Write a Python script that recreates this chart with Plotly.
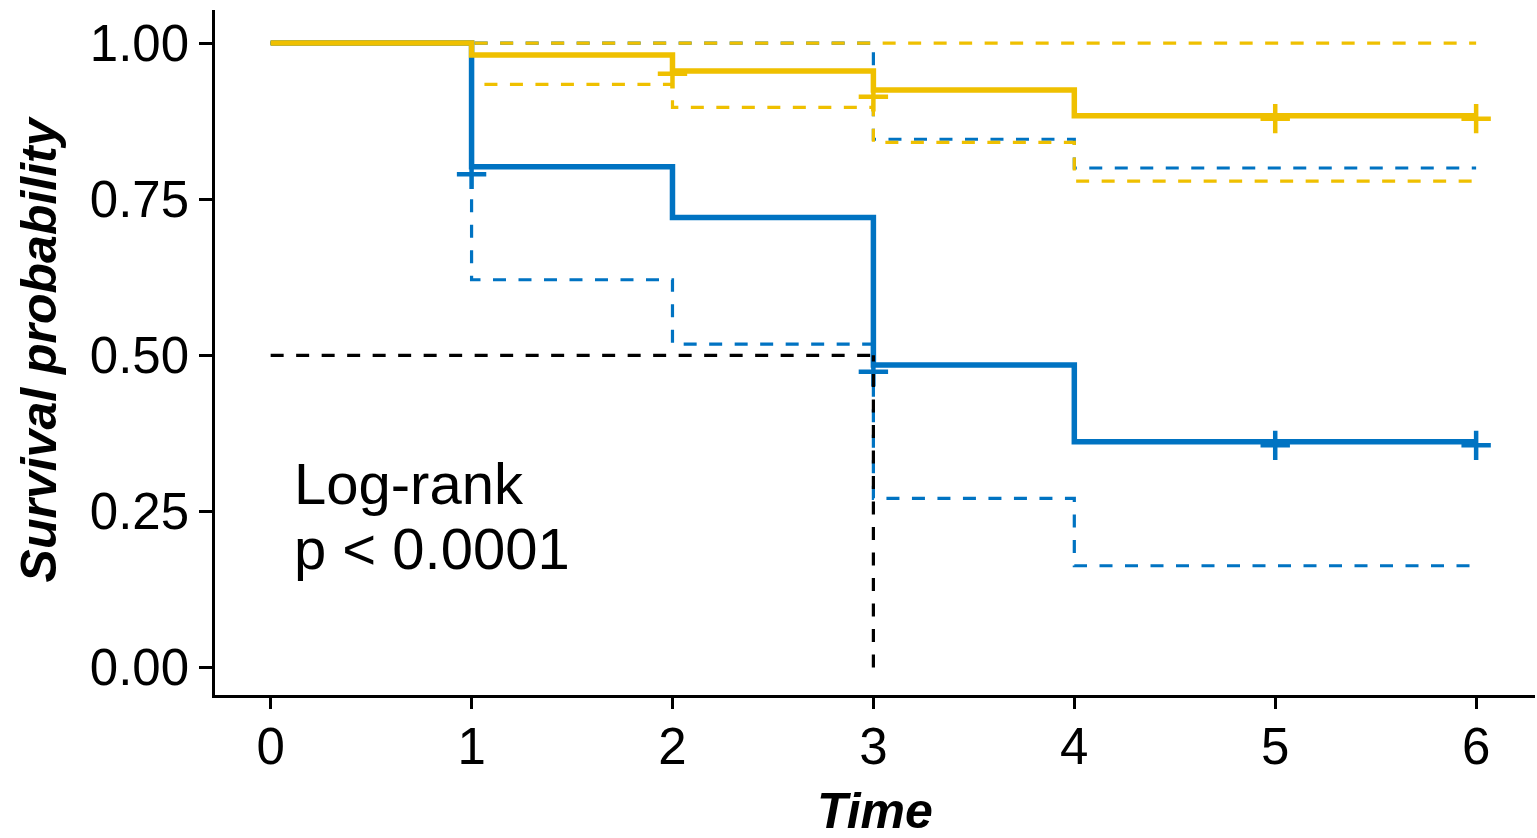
import plotly.graph_objects as go

# ---- data ----
time_steps = [0, 1, 2, 3, 4, 6]

# group drawn in yellow
yel_surv = [1.0, 0.981, 0.9555, 0.925, 0.8835, 0.8835]
yel_upper = [1.0, 1.0, 1.0, 1.0, 1.0, 1.0]
yel_lower = [1.0, 0.934, 0.897, 0.841, 0.779, 0.779]
yel_cens_t = [2, 3, 5, 6]
yel_cens_s = [0.951, 0.914, 0.879, 0.879]

# group drawn in blue
blu_surv = [1.0, 0.802, 0.7205, 0.4844, 0.3614, 0.3614]
blu_upper = [1.0, 1.0, 1.0, 0.846, 0.80, 0.80]
blu_lower = [1.0, 0.621, 0.518, 0.271, 0.163, 0.163]
blu_cens_t = [1, 3, 5, 6]
blu_cens_s = [0.79, 0.4736, 0.3558, 0.3558]

median_time = 3
median_surv = 0.5

x_ticks = [0, 1, 2, 3, 4, 5, 6]
y_ticks = [0, 0.25, 0.5, 0.75, 1.0]
y_ticktext = ["0.00", "0.25", "0.50", "0.75", "1.00"]

BLUE = "#0073C2"
YELLOW = "#EFC000"
FONT = "Liberation Sans, Arial, sans-serif"
DASH = "13px,12.5px"

fig = go.Figure()

def step(x, y, color, width, dash=None):
    fig.add_trace(go.Scatter(x=x, y=y, mode="lines", line_shape="hv",
                             line=dict(color=color, width=width, dash=dash),
                             hoverinfo="skip", showlegend=False))

# confidence intervals
step(time_steps, blu_upper, BLUE, 3.2, DASH)
step(time_steps, blu_lower, BLUE, 3.2, DASH)
step(time_steps, yel_upper, YELLOW, 3.2, DASH)
step(time_steps, yel_lower, YELLOW, 3.2, DASH)
# survival curves
step(time_steps, blu_surv, BLUE, 5.5)
step(time_steps, yel_surv, YELLOW, 5.5)

# censor marks
for t, s, c in [(blu_cens_t, blu_cens_s, BLUE), (yel_cens_t, yel_cens_s, YELLOW)]:
    fig.add_trace(go.Scatter(x=t, y=s, mode="markers",
                             marker=dict(symbol="cross-thin", size=21,
                                         line=dict(color=c, width=4.5)),
                             hoverinfo="skip", showlegend=False))

# median lines
fig.add_trace(go.Scatter(x=[0, median_time], y=[median_surv, median_surv], mode="lines",
                         line=dict(color="black", width=3.2, dash=DASH),
                         hoverinfo="skip", showlegend=False))
fig.add_trace(go.Scatter(x=[median_time, median_time], y=[0, median_surv], mode="lines",
                         line=dict(color="black", width=3.2, dash=DASH),
                         hoverinfo="skip", showlegend=False))

axis_common = dict(showgrid=False, zeroline=False, showline=True, linecolor="black",
                   linewidth=2.5, ticks="outside", tickwidth=2.5, tickcolor="black",
                   tickfont=dict(family=FONT, size=51, color="black"))

fig.update_layout(
    width=1537, height=838,
    margin=dict(l=215, r=2, t=10, b=143),
    paper_bgcolor="white", plot_bgcolor="white",
    xaxis=dict(range=[-0.277, 6.293], tickvals=x_ticks, ticklen=11,
               ticklabelstandoff=-6, **axis_common),
    yaxis=dict(range=[-0.044, 1.053], tickvals=y_ticks, ticktext=y_ticktext,
               ticklen=13, **axis_common),
    annotations=[
        dict(text="Log-rank", x=0.106, y=0.2954, xref="x", yref="y",
             xanchor="left", yanchor="middle", showarrow=False,
             font=dict(family=FONT, size=58, color="black")),
        dict(text="p < 0.0001", x=0.106, y=0.1904, xref="x", yref="y",
             xanchor="left", yanchor="middle", showarrow=False,
             font=dict(family=FONT, size=58, color="black")),
        dict(text="<b><i>Time</i></b>", x=0.5, y=-0.170, xref="paper", yref="paper",
             xanchor="center", yanchor="middle", showarrow=False,
             font=dict(family=FONT, size=50, color="black")),
        dict(text="<b><i>Survival probability</i></b>", x=-0.1326, y=0.5044,
             xref="paper", yref="paper", textangle=-90,
             xanchor="center", yanchor="middle", showarrow=False,
             font=dict(family=FONT, size=50, color="black")),
    ],
)

fig.write_html("out.html")
